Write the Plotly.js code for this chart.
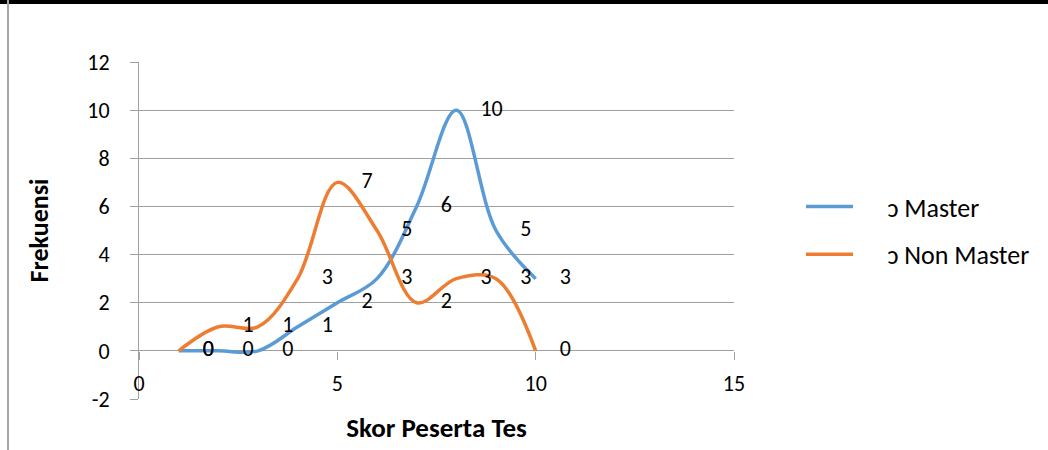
<!DOCTYPE html>
<html><head><meta charset="utf-8">
<script src="https://cdn.plot.ly/plotly-3.0.1.min.js"></script>
<style>
html,body{margin:0;padding:0;background:#fff;}
#wrap{position:relative;width:1048px;height:450px;overflow:hidden;background:#fff;}
#chart{position:absolute;left:0;top:0;width:1048px;height:450px;}
#topbar{position:absolute;left:0;top:0;width:1048px;height:4px;background:#000;z-index:5;}
#leftbar{position:absolute;left:7px;top:0;width:2px;height:450px;background:#a6a6a6;z-index:5;}
</style></head>
<body><div id="wrap"><div id="chart"></div><div id="topbar"></div><div id="leftbar"></div></div>
<script>
// ---- data ----
const xScores = [1, 2, 3, 4, 5, 6, 7, 8, 9, 10];
const masterFreq = [0, 0, 0, 1, 2, 3, 6, 10, 5, 3];
const nonMasterFreq = [0, 1, 1, 3, 7, 5, 2, 3, 3, 0];
const seriesNames = ['\u0254 Master', '\u0254 Non Master'];
const yTickVals = [-2, 0, 2, 4, 6, 8, 10, 12];
const yTickText = ['-2', '0', '2', '4', '6', '8', '10', '12'];
const xTitle = 'Skor Peserta Tes';
const yTitle = 'Frekuensi';

const FONT = 'Calibri, Carlito, Lato, "Noto Sans", sans-serif';
const colors = ['#5B9BD5', '#ED7D31'];
const grid = '#a0a0a0';
const PAD = '\u00A0\u00A0\u00A0\u00A0\u00A0';

const seriesData = [masterFreq, nonMasterFreq];
const traces = [];
seriesData.forEach((vals, i) => {
  traces.push({
    x: xScores, y: vals, name: PAD + seriesNames[i], type: 'scatter', mode: 'lines',
    line: {color: colors[i], width: 3.5, shape: 'spline', smoothing: 1},
    legendgroup: 'g' + i, hoverinfo: 'skip'
  });
});
seriesData.forEach((vals, i) => {
  traces.push({
    x: xScores, y: vals, type: 'scatter', mode: 'markers+text',
    text: vals.map(String), textposition: 'middle right',
    textfont: {family: FONT, size: 22, color: '#000'},
    marker: {size: 37, color: 'rgba(0,0,0,0)'},
    showlegend: false, hoverinfo: 'skip', cliponaxis: false
  });
});

const layout = {
  width: 1048, height: 450,
  margin: {l: 139, r: 314, t: 62, b: 51, autoexpand: false},
  paper_bgcolor: '#fff', plot_bgcolor: '#fff',
  font: {family: FONT, color: '#000', size: 22},
  showlegend: true,
  legend: {
    x: 1.1126, xanchor: 'left', y: 0.641, yanchor: 'top',
    font: {family: FONT, size: 26, color: '#000'},
    traceorder: 'grouped', tracegroupgap: 11, itemwidth: 47,
    bgcolor: 'rgba(0,0,0,0)'
  },
  xaxis: {
    range: [0, 15], tick0: 0, dtick: 5, showgrid: false, zeroline: false, showline: false,
    anchor: 'free', position: 2 / 14, automargin: false,
    ticks: 'outside', ticklen: 8, tickcolor: grid, tickwidth: 1,
    ticklabelstandoff: 5,
    tickfont: {family: FONT, size: 22, color: '#000'},
    title: {text: '<b>' + xTitle + '</b>', font: {family: FONT, size: 27, color: '#000'}, standoff: 21}
  },
  yaxis: {
    range: [-2, 12], tickmode: 'array', tickvals: yTickVals, ticktext: yTickText,
    automargin: false,
    showgrid: true, gridcolor: grid, gridwidth: 1,
    zeroline: true, zerolinecolor: grid, zerolinewidth: 1,
    showline: true, linecolor: grid, linewidth: 1,
    ticks: 'outside', ticklen: 8, tickcolor: grid, tickwidth: 1,
    ticklabelstandoff: 16,
    tickfont: {family: FONT, size: 22, color: '#000'},
    title: {text: '<b>' + yTitle + '</b>', font: {family: FONT, size: 26, color: '#000'}, standoff: 31}
  }
};

Plotly.newPlot('chart', traces, layout, {displayModeBar: false, staticPlot: true});
</script>
</body></html>
